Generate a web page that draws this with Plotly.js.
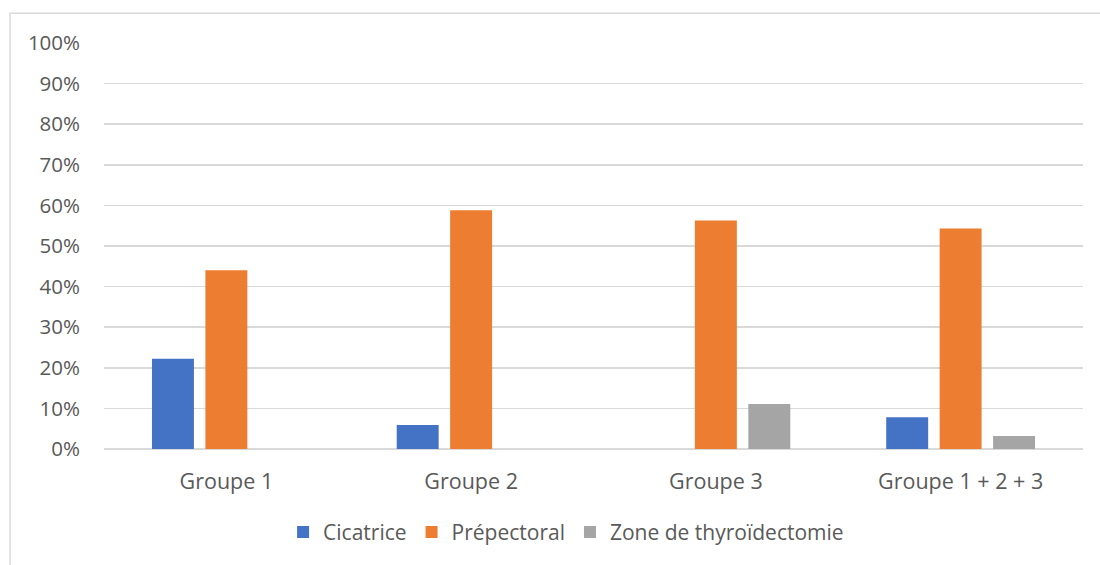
<!DOCTYPE html>
<html>
<head>
<meta charset="utf-8">
<script src="https://cdn.plot.ly/plotly-3.0.1.min.js"></script>
<style>
html,body{margin:0;padding:0;background:#fff;}
#chart{width:1100px;height:565px;}
</style>
</head>
<body>
<div id="chart"></div>
<script>
const categories = ["Groupe 1", "Groupe 2", "Groupe 3", "Groupe 1 + 2 + 3"];
const seriesNames = ["Cicatrice", "Prépectoral", "Zone de thyroïdectomie"];
const cicatrice = [0.222, 0.059, 0, 0.078];
const prepectoral = [0.440, 0.588, 0.563, 0.543];
const zoneThyro = [0, 0, 0.111, 0.032];
const yTickVals = [0, 0.1, 0.2, 0.3, 0.4, 0.5, 0.6, 0.7, 0.8, 0.9, 1.0];
const yTickText = ["0%", "10%", "20%", "30%", "40%", "50%", "60%", "70%", "80%", "90%", "100%"];
const colors = ["#4472C4", "#ED7D31", "#A5A5A5"];

const fontFam = "Open Sans, Liberation Sans, sans-serif";
const textColor = "#595959";

const seriesValues = [cicatrice, prepectoral, zoneThyro];
const traces = seriesValues.map((vals, i) => ({
  type: "bar",
  name: seriesNames[i],
  x: categories,
  y: vals,
  marker: {color: colors[i], line: {width: 0}},
  hoverinfo: "x+y+name"
}));

const layout = {
  width: 1100,
  height: 565,
  margin: {l: 104, r: 17, t: 43, b: 114},
  paper_bgcolor: "#ffffff",
  plot_bgcolor: "#ffffff",
  barmode: "group",
  bargap: 0.345,
  bargroupgap: 0.215,
  font: {family: fontFam, size: 20, color: textColor},
  xaxis: {
    type: "category",
    showgrid: false,
    showline: false,
    zeroline: false,
    ticks: "",
    ticklabelstandoff: 17,
    tickfont: {family: fontFam, size: 21.5, color: textColor}
  },
  yaxis: {
    range: [0, 1],
    tickvals: yTickVals,
    ticktext: yTickText,
    showgrid: true,
    gridcolor: "#d9d9d9",
    gridwidth: 1.5,
    zeroline: true,
    zerolinecolor: "#d9d9d9",
    zerolinewidth: 1.5,
    showline: false,
    ticks: "",
    ticklabelstandoff: 23,
    tickfont: {family: fontFam, size: 20.5, color: textColor},
    fixedrange: true
  },
  showlegend: true,
  legend: {
    orientation: "h",
    x: 0.472,
    xanchor: "center",
    y: -0.205,
    yanchor: "middle",
    font: {family: fontFam, size: 21, color: textColor},
    itemsizing: "constant",
    traceorder: "normal",
    bgcolor: "rgba(0,0,0,0)"
  },
  shapes: [{
    type: "rect",
    xref: "paper", yref: "paper",
    x0: -0.096, x1: 1.0276, y0: -0.304, y1: 1.0735,
    line: {color: "#d9d9d9", width: 1.5},
    fillcolor: "rgba(0,0,0,0)",
    layer: "below"
  }]
};

Plotly.newPlot("chart", traces, layout, {displayModeBar: false, staticPlot: true});
</script>
</body>
</html>
